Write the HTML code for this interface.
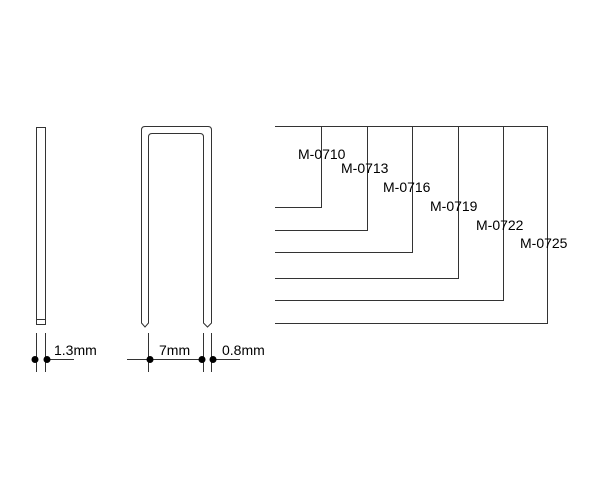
<!DOCTYPE html>
<html><head><style>body{margin:0;background:#fff}svg{display:block}</style></head>
<body>
<svg width="600" height="500" xmlns="http://www.w3.org/2000/svg" font-family="Liberation Sans, sans-serif" font-size="14" fill="#000">
<g fill="none" stroke="#333" stroke-width="1">
<rect x="36.5" y="127.5" width="9" height="197"/>
<line x1="36.5" y1="319.5" x2="45.5" y2="319.5"/>
<path d="M141.5,323 V130 Q141.5,126.5 145,126.5 H208 Q211.5,126.5 211.5,130 V323 L207.5,327 L203.5,323 V137 Q203.5,133.5 200,133.5 H152 Q148.5,133.5 148.5,137 V323 L145,327 Z"/>
<line x1="36.5" y1="333" x2="36.5" y2="372"/>
<line x1="45.5" y1="333" x2="45.5" y2="372"/>
<line x1="45.5" y1="359.5" x2="74" y2="359.5"/>
<line x1="148.5" y1="333" x2="148.5" y2="372"/>
<line x1="203.5" y1="333" x2="203.5" y2="372"/>
<line x1="211.5" y1="333" x2="211.5" y2="372"/>
<line x1="127" y1="359.5" x2="203.5" y2="359.5"/>
<line x1="211.5" y1="359.5" x2="240" y2="359.5"/>
<path d="M275,126.5 H547.5 V323.5 H275"/>
<path d="M321.5,126.5 V207.5 H275"/>
<path d="M367.5,126.5 V230.5 H275"/>
<path d="M412.5,126.5 V252.5 H275"/>
<path d="M458.5,126.5 V278.5 H275"/>
<path d="M503.5,126.5 V300.5 H275"/>
</g>
<g fill="#000">
<circle cx="35" cy="359.5" r="3.5"/><circle cx="47" cy="359.5" r="3.5"/>
<circle cx="150" cy="359.5" r="3.5"/><circle cx="202" cy="359.5" r="3.5"/><circle cx="213" cy="359.5" r="3.5"/>
</g>
<text x="54" y="355">1.3mm</text>
<text x="159" y="355">7mm</text>
<text x="222" y="355">0.8mm</text>
<text x="298" y="159">M-0710</text>
<text x="341" y="173">M-0713</text>
<text x="383" y="192">M-0716</text>
<text x="430" y="211">M-0719</text>
<text x="476" y="230">M-0722</text>
<text x="520" y="248">M-0725</text>
</svg>
</body></html>
